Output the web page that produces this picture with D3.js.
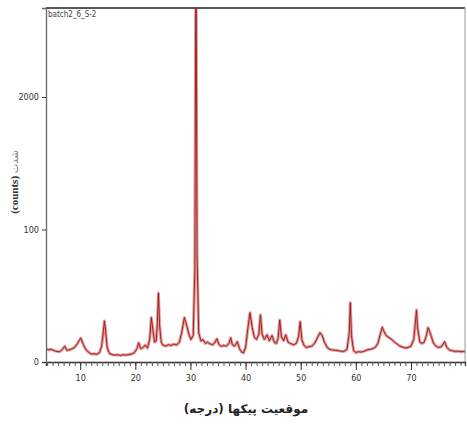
<!DOCTYPE html>
<html>
<head>
<meta charset="utf-8">
<script src="https://cdn.jsdelivr.net/npm/d3@7"></script>
<style>
  body { margin: 0; background: #fff; }
  svg { display: block; }
</style>
</head>
<body>
<div id="chart"></div>
<script>
// داده‌ها
const sampleName = "batch2_6_S-2";
const xTickValues = [10, 20, 30, 40, 50, 60, 70];
const yTickValues = [0, 1000, 2000];
const yTickLabels = ["0", "100", "2000"]; // as printed on the original
const xLabel = "موقعیت پیکها (درجه)";
const yLabelLatin = "(counts)";
const yLabelFa = "شدت";

const twoTheta = [
  3.8, 4.3, 4.8, 5.3, 5.8, 6.3, 6.8, 7.2, 7.6, 8.0, 8.5, 9.0, 9.5, 10.1, 10.6, 11.0, 11.5,
  12.0, 12.5, 13.0, 13.5, 13.9, 14.2, 14.4, 14.6, 14.9, 15.3, 15.8, 16.3, 16.8, 17.3, 17.8,
  18.3, 18.8, 19.3, 19.8, 20.3, 20.6, 21.0, 21.4, 21.8, 22.2, 22.6, 22.9, 23.2, 23.5, 23.8,
  24.0, 24.2, 24.4, 24.7, 25.0, 25.5, 26.0, 26.5, 27.0, 27.5, 28.0, 28.4, 28.9, 29.3, 29.7,
  30.1, 30.5, 30.8, 31.0, 31.2, 31.5, 31.9, 32.3, 32.7, 33.1, 33.5, 34.0, 34.4, 34.8, 35.2,
  35.6, 36.0, 36.5, 37.0, 37.3, 37.6, 38.0, 38.5, 38.9, 39.3, 39.6, 40.0, 40.4, 40.8, 41.2,
  41.6, 42.0, 42.4, 42.7, 43.0, 43.4, 43.9, 44.3, 44.8, 45.2, 45.6, 45.9, 46.2, 46.5, 46.9,
  47.3, 47.7, 48.2, 48.7, 49.2, 49.6, 49.9, 50.2, 50.6, 51.0, 51.5, 52.0, 52.5, 53.0, 53.5,
  53.9, 54.3, 54.8, 55.3, 55.8, 56.3, 56.8, 57.3, 57.8, 58.4, 58.8, 59.0, 59.2, 59.6, 60.0,
  60.5, 61.0, 61.5, 62.0, 62.5, 63.0, 63.5, 64.0, 64.5, 64.8, 65.1, 65.5, 66.0, 66.5, 67.0,
  67.5, 68.0, 68.5, 69.0, 69.5, 70.0, 70.5, 70.8, 71.0, 71.2, 71.6, 72.0, 72.4, 72.8, 73.1,
  73.4, 73.7, 74.0, 74.5, 75.0, 75.5, 76.1, 76.5, 77.0, 77.5, 78.0, 78.5, 79.0, 79.5, 79.8
];
const counts = [
  100, 92, 96, 85, 80, 78, 95, 120, 88, 92, 100, 110, 140, 180, 130, 95, 75,
  60, 62, 58, 70, 120, 230, 310, 240, 110, 65, 55, 52, 55, 50, 54,
  52, 56, 60, 70, 100, 145, 100, 110, 128, 105, 170, 335, 240, 150, 160,
  300, 520, 280, 150, 128, 120, 130, 125, 135, 128, 150, 220, 335, 280, 210,
  170, 200, 700, 3300, 800, 220, 160, 168, 140, 150, 138, 130, 145, 175, 130,
  118, 125, 120, 140, 183, 130, 120, 153, 100, 75, 68, 110, 250, 372, 260,
  185, 170, 210, 355, 210, 170, 205, 160, 200, 150, 140, 180, 317, 190, 160,
  205, 150, 138, 130, 140, 190, 304, 170, 125, 110, 115, 120, 140, 180, 221,
  200, 150, 110, 95, 90, 88, 85, 82, 80, 95, 220, 448, 200, 85, 72,
  78, 75, 82, 90, 95, 100, 110, 140, 220, 262, 230, 200, 185, 170, 150,
  135, 120, 112, 106, 110, 120, 170, 300, 392, 260, 150, 140, 150, 200, 259,
  230, 191, 150, 120, 110, 115, 153, 110, 90, 85, 80, 82, 78, 80, 76
];

const width = 467, height = 425;
const margin = {top: 8, right: 2, bottom: 63, left: 46};
const innerW = width - margin.left - margin.right;
const innerH = height - margin.top - margin.bottom;

const svg = d3.select('#chart')
  .append('svg')
  .attr('width', width)
  .attr('height', height);

const g = svg.append('g')
  .attr('transform', `translate(${margin.left},${margin.top})`);

const x = d3.scaleLinear().domain([3.8, 79.8]).range([0, innerW]);
const y = d3.scaleLinear().domain([0, 2672]).range([innerH, 0]);

// قاب
g.append('line').attr('x1', 0).attr('x2', innerW).attr('y1', 0).attr('y2', 0)
  .attr('stroke', '#555').attr('stroke-width', 2);
g.append('line').attr('x1', innerW).attr('x2', innerW).attr('y1', 0).attr('y2', innerH)
  .attr('stroke', '#999').attr('stroke-width', 1);

svg.append('clipPath').attr('id', 'plot-clip')
  .append('rect').attr('x', 0).attr('y', 0).attr('width', innerW).attr('height', innerH);

const points = twoTheta.map((t, i) => [t, counts[i]]);
const line = d3.line().x(d => x(d[0])).y(d => y(d[1]));

const plot = g.append('g').attr('clip-path', 'url(#plot-clip)');
plot.append('path')
  .datum(points)
  .attr('fill', 'none')
  .attr('stroke', '#d8403f')
  .attr('stroke-opacity', 0.55)
  .attr('stroke-width', 3)
  .attr('stroke-linejoin', 'round')
  .attr('d', line);
plot.append('path')
  .datum(points)
  .attr('fill', 'none')
  .attr('stroke', '#8a1c1c')
  .attr('stroke-width', 0.9)
  .attr('d', line);

const tickFont = '"Liberation Sans Narrow", "DejaVu Sans Condensed", sans-serif';

// محور x: تیک‌های اصلی و فرعی
const xAxis = g.append('g').attr('transform', `translate(0,${innerH})`);
xAxis.call(d3.axisBottom(x).tickValues(d3.range(4, 80, 1)).tickSize(4).tickFormat(''))
  .call(a => a.select('.domain').attr('stroke', '#333').attr('stroke-width', 1.3));
xAxis.selectAll('.tick line').attr('stroke', '#555');
g.append('g').attr('transform', `translate(0,${innerH})`)
  .call(d3.axisBottom(x).tickValues(xTickValues).tickSize(8).tickPadding(5))
  .call(a => a.select('.domain').remove())
  .call(a => a.selectAll('.tick line').attr('stroke', '#333'))
  .call(a => a.selectAll('.tick text')
    .attr('font-family', tickFont).attr('font-size', 9).attr('fill', '#333'));

// محور y
g.append('g')
  .call(d3.axisLeft(y).tickValues(yTickValues).tickSize(4).tickPadding(3)
    .tickFormat((d, i) => yTickLabels[i]))
  .call(a => a.select('.domain').attr('stroke', '#666').attr('stroke-width', 1.3))
  .call(a => a.selectAll('.tick line').attr('stroke', '#333'))
  .call(a => a.selectAll('.tick text')
    .attr('font-family', tickFont).attr('font-size', 9).attr('fill', '#333'));

// نام نمونه
g.append('text')
  .attr('x', 2).attr('y', 9)
  .attr('font-family', tickFont).attr('font-size', 8).attr('fill', '#444')
  .text(sampleName);

// برچسب محور x
svg.append('text')
  .attr('x', 246).attr('y', 413)
  .attr('text-anchor', 'middle')
  .attr('direction', 'rtl')
  .attr('font-family', '"DejaVu Sans", sans-serif')
  .attr('font-size', 12)
  .attr('font-weight', 'bold')
  .attr('fill', '#222')
  .text(xLabel);

// برچسب محور y
const yl = svg.append('text')
  .attr('transform', 'translate(18,182) rotate(-90)')
  .attr('text-anchor', 'middle')
  .attr('font-family', '"Liberation Serif", "DejaVu Sans", serif')
  .attr('font-size', 11)
  .attr('font-weight', 'bold')
  .attr('fill', '#333');
yl.append('tspan').text(yLabelLatin + ' ');
yl.append('tspan').attr('font-family', '"DejaVu Sans", sans-serif').attr('font-weight', 'normal')
  .attr('font-size', 10).attr('fill', '#777').text(yLabelFa);
</script>
</body>
</html>
